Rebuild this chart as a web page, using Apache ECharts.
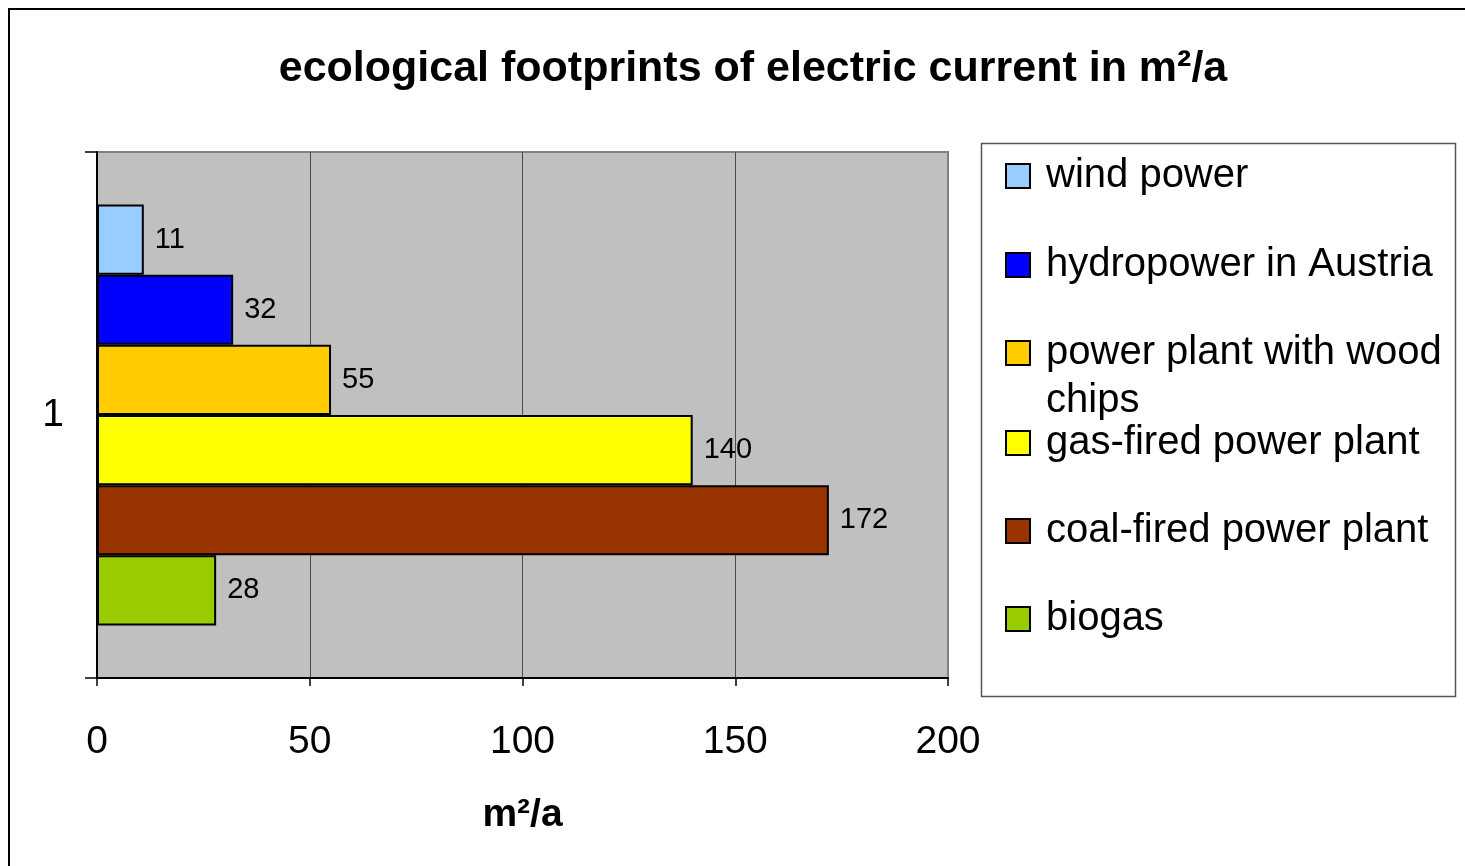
<!DOCTYPE html>
<html>
<head>
<meta charset="utf-8">
<title>ecological footprints of electric current</title>
<script src="https://cdn.jsdelivr.net/npm/echarts@6/dist/echarts.min.js"></script>
<style>
  html, body { margin: 0; padding: 0; background: #ffffff; }
  #chart { width: 1465px; height: 866px; }
</style>
</head>
<body>
<div id="chart"></div>
<script>
// Chart data
const categories = ['1'];
const seriesNames = [
  'wind power',
  'hydropower in Austria',
  'power plant with wood chips',
  'gas-fired power plant',
  'coal-fired power plant',
  'biogas'
];
const seriesValues = [11, 32, 55, 140, 172, 28];
const seriesColors = ['#99ccff', '#0000ff', '#ffcc00', '#ffff00', '#993300', '#99cc00'];
const xTicks = [0, 50, 100, 150, 200];

const FONT = '"Liberation Sans", Arial, sans-serif';

const chart = echarts.init(document.getElementById('chart'), null, { renderer: 'canvas' });

// one bar series per energy source, stacked top to bottom inside the single category
const series = seriesNames.map((name, i) => ({
  name: name,
  type: 'bar',
  data: [seriesValues[i]],
  barGap: '0%',
  barCategoryGap: '20%',
  itemStyle: { color: seriesColors[i], borderColor: '#000000', borderWidth: 2 },
  label: {
    show: true,
    position: 'right',
    distance: 11,
    color: '#000000',
    fontFamily: FONT,
    fontSize: 29
  }
}));

// legend entries, one block each so the spacing stays even;
// the long wood-chips label continues on a second line drawn below it
const legendCenters = [173, 262, 350, 440, 528, 616];
const WRAPPED = 'power plant with wood chips';
const legends = seriesNames.map((name, i) => ({
  data: [{ name: name, icon: 'rect' }],
  left: 1005,
  top: legendCenters[i] - 24,
  itemWidth: 24,
  itemHeight: 24,
  itemGap: 0,
  padding: 0,
  selectedMode: false,
  formatter: name === WRAPPED ? 'power plant with wood' : '{name}',
  textStyle: {
    fontFamily: FONT,
    fontSize: 40,
    color: '#000000',
    lineHeight: 48,
    padding: [6, 0, 0, 11]
  }
}));

const option = {
  animation: false,
  backgroundColor: '#ffffff',
  textStyle: { fontFamily: FONT },
  title: {
    text: 'ecological footprints of electric current in m²/a',
    left: 748,
    textAlign: 'center',
    top: 43,
    textStyle: { fontFamily: FONT, fontSize: 43, fontWeight: 'bold', color: '#000000' }
  },
  graphic: [
    {
      type: 'rect',
      shape: { x: 9, y: 9, width: 1600, height: 1000 },
      style: { fill: 'none', stroke: '#000000', lineWidth: 2 },
      silent: true,
      z: -10
    },
    {
      type: 'rect',
      shape: { x: 981.5, y: 143.5, width: 474, height: 553 },
      style: { fill: '#ffffff', stroke: '#555555', lineWidth: 1.5 },
      silent: true,
      z: -5
    },
    {
      type: 'text',
      left: 1046,
      top: 398 - 21,
      style: {
        text: 'chips',
        fontFamily: FONT,
        fontSize: 40,
        lineHeight: 48,
        fill: '#000000'
      },
      silent: true
    }
  ],
  legend: legends,
  grid: {
    left: 97,
    top: 152,
    right: 517,
    bottom: 188,
    show: true,
    backgroundColor: '#c0c0c0',
    borderColor: '#808080',
    borderWidth: 2
  },
  xAxis: {
    type: 'value',
    min: 0,
    max: 200,
    interval: 50,
    name: 'm²/a',
    nameLocation: 'middle',
    nameGap: 118,
    nameTextStyle: { fontFamily: FONT, fontSize: 39, fontWeight: 'bold', color: '#000000' },
    axisLine: { show: true, lineStyle: { color: '#000000', width: 2 } },
    axisTick: { show: true, length: 8, lineStyle: { color: '#000000', width: 1.5 } },
    axisLabel: {
      margin: 45,
      fontFamily: FONT,
      fontSize: 39,
      color: '#000000',
      formatter: v => (xTicks.includes(v) ? String(v) : '')
    },
    splitLine: { show: true, showMinLine: false, showMaxLine: false, lineStyle: { color: '#4a4a4a', width: 1 } }
  },
  yAxis: {
    type: 'category',
    data: categories,
    inverse: true,
    axisLine: { show: true, lineStyle: { color: '#000000', width: 2 } },
    axisTick: { show: true, length: 12, lineStyle: { color: '#000000', width: 1.5 } },
    axisLabel: { margin: 33, fontFamily: FONT, fontSize: 39, color: '#000000' },
    splitLine: { show: false }
  },
  series: series
};

chart.setOption(option);
</script>
</body>
</html>
